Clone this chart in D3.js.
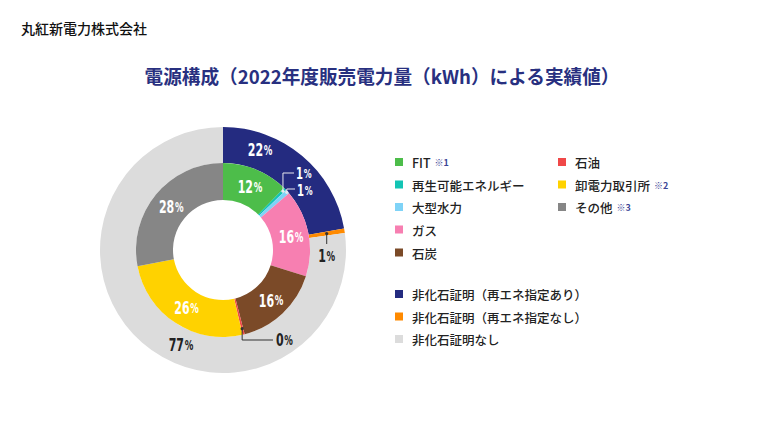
<!DOCTYPE html>
<html>
<head>
<meta charset="utf-8">
<script src="https://cdn.jsdelivr.net/npm/d3@7"></script>
<style>
  body { margin: 0; background: #fff; }
  svg { display: block; }
  text { font-family: "Noto Sans CJK JP", "Noto Sans", sans-serif; }
  .pct { font-family: "DejaVu Sans Condensed", "Liberation Sans Narrow", sans-serif; font-stretch: condensed; font-weight: bold; }
</style>
</head>
<body>
<div id="chart"></div>
<script>
// inner ring: power source mix (%)
var sourceNames = ["FIT", "再生可能エネルギー", "大型水力", "ガス", "石炭", "石油", "卸電力取引所", "その他"];
var sourceValues = [12.4, 0.5, 0.8, 16.2, 16.1, 0.4, 25.6, 28.0];
var sourceColors = ["#4dbd4a", "#13c4b4", "#7fd3f7", "#f77fb1", "#7b4a28", "#f04848", "#ffd200", "#868686"];
var sourceNotes = ["※1", "", "", "", "", "", "※2", "※3"];

// outer ring: non-fossil certificates (%)
var certNames = ["非化石証明（再エネ指定あり）", "非化石証明（再エネ指定なし）", "非化石証明なし"];
var certValues = [22.2, 0.6, 77.2];
var certColors = ["#242b80", "#ff8a00", "#dcdcdc"];

var W = 761, H = 429;
var cx = 223, cy = 250;
var rHole = 50, rMid = 87, rOuter = 123;

var svg = d3.select("#chart").append("svg")
    .attr("width", W).attr("height", H);

svg.append("text")
    .attr("x", 21).attr("y", 34)
    .attr("font-size", 14).attr("font-weight", 500).attr("fill", "#111")
    .text("丸紅新電力株式会社");

svg.append("text")
    .attr("x", 382).attr("y", 84)
    .attr("text-anchor", "middle")
    .attr("font-size", 19).attr("font-weight", "bold").attr("fill", "#283080")
    .attr("textLength", 475).attr("lengthAdjust", "spacingAndGlyphs")
    .text("電源構成（2022年度販売電力量（kWh）による実績値）");

var pie = d3.pie().sort(null).value(function(d) { return d; });
var innerArcs = pie(sourceValues);
var outerArcs = pie(certValues);

var arcInner = d3.arc().innerRadius(rHole).outerRadius(rMid);
var arcOuter = d3.arc().innerRadius(rMid).outerRadius(rOuter);

var g = svg.append("g").attr("transform", "translate(" + cx + "," + cy + ")");

g.selectAll("path.outer").data(outerArcs).enter().append("path")
    .attr("class", "outer")
    .attr("d", arcOuter)
    .attr("fill", function(d, i) { return certColors[i]; });

g.selectAll("path.inner").data(innerArcs).enter().append("path")
    .attr("class", "inner")
    .attr("d", arcInner)
    .attr("fill", function(d, i) { return sourceColors[i]; });

// percentage label, small % sign, squeezed like the condensed original
function pctLabel(sel, val, x, y, color, anchor, size) {
  size = size || 17.5;
  var t = sel.append("text")
      .attr("class", "pct")
      .attr("transform", "translate(" + x + "," + y + ") scale(0.7,1)")
      .attr("text-anchor", anchor || "middle")
      .attr("dominant-baseline", "central")
      .attr("fill", color);
  t.append("tspan").attr("font-size", size).text(Math.round(val));
  t.append("tspan").attr("font-size", size * 0.78).attr("dx", 1).text("%");
  return t;
}

function mid(d) { return (d.startAngle + d.endAngle) / 2; }
function polar(a, r) { return [Math.sin(a) * r, -Math.cos(a) * r]; }

// labels inside the slices (big enough ones)
var insideInner = [0, 3, 4, 6, 7];
insideInner.forEach(function(i) {
  var p = arcInner.centroid(innerArcs[i]);
  pctLabel(g, sourceValues[i], p[0] + 1, p[1] + 1, "#fff");
});
var c22 = polar(mid(outerArcs[0]) - 0.34, 106);
pctLabel(g, certValues[0], c22[0], c22[1], "#fff");
var c77 = polar(mid(outerArcs[2]) - 0.3, 104);
pctLabel(g, certValues[2], c77[0], c77[1], "#222");

// leader lines for tiny slices
function leader(a, r, pts, color) {
  var p0 = polar(a, r);
  var path = [p0].concat(pts.map(function(q) { return [q[0] - cx, q[1] - cy]; }));
  g.append("path")
      .attr("d", d3.line()(path))
      .attr("fill", "none").attr("stroke", color).attr("stroke-width", 1);
  g.append("circle").attr("cx", p0[0]).attr("cy", p0[1]).attr("r", 1.6).attr("fill", color);
}

// 再生可能エネルギー
var aRen = mid(innerArcs[1]);
var pRen = polar(aRen, rMid - 3);
leader(aRen, rMid - 3, [[pRen[0] + cx, 173], [294, 173]], "#e8e8ee");
pctLabel(svg, sourceValues[1], 296, 173, "#fff", "start", 16);
// 大型水力
var aHyd = mid(innerArcs[2]);
var pHyd = polar(aHyd, rMid - 1);
leader(aHyd, rMid - 1, [[pHyd[0] + cx, 189], [295, 189]], "#e8e8ee");
pctLabel(svg, sourceValues[2], 297, 190, "#fff", "start", 16);
// 非化石証明(再エネ指定なし)
var aOr = mid(outerArcs[1]);
var pOr = polar(aOr, 105);
leader(aOr, 105, [[pOr[0] + cx, 244]], "#333");
pctLabel(svg, certValues[1], pOr[0] + cx, 256, "#222");
// 石油
var aOil = mid(innerArcs[5]);
var pOil = polar(aOil, rMid - 6);
leader(aOil, rMid - 6, [[pOil[0] + cx, 340], [273, 340]], "#333");
pctLabel(svg, sourceValues[5], 276, 340, "#222", "start");

// legend
var legend = svg.append("g").attr("class", "legend");
var legendRows = [
  { name: sourceNames[0], note: sourceNotes[0], color: sourceColors[0], x: 395, y: 162 },
  { name: sourceNames[1], note: sourceNotes[1], color: sourceColors[1], x: 395, y: 184.5 },
  { name: sourceNames[2], note: sourceNotes[2], color: sourceColors[2], x: 395, y: 207 },
  { name: sourceNames[3], note: sourceNotes[3], color: sourceColors[3], x: 395, y: 229.5 },
  { name: sourceNames[4], note: sourceNotes[4], color: sourceColors[4], x: 395, y: 252.5 },
  { name: sourceNames[5], note: sourceNotes[5], color: sourceColors[5], x: 558, y: 162 },
  { name: sourceNames[6], note: sourceNotes[6], color: sourceColors[6], x: 558, y: 184.5 },
  { name: sourceNames[7], note: sourceNotes[7], color: sourceColors[7], x: 558, y: 207 },
  { name: certNames[0], note: "", color: certColors[0], x: 395, y: 294 },
  { name: certNames[1], note: "", color: certColors[1], x: 395, y: 316.5 },
  { name: certNames[2], note: "", color: certColors[2], x: 395, y: 339 }
];

var items = legend.selectAll("g").data(legendRows).enter().append("g")
    .attr("transform", function(d) { return "translate(" + d.x + "," + d.y + ")"; });
items.append("rect")
    .attr("x", 0).attr("y", -4).attr("width", 8).attr("height", 8)
    .attr("fill", function(d) { return d.color; });
var lt = items.append("text")
    .attr("x", 17).attr("y", 0)
    .attr("dominant-baseline", "central")
    .attr("font-size", 12.5).attr("font-weight", 500).attr("fill", "#222");
lt.append("tspan").text(function(d) { return d.name; });
lt.append("tspan")
    .attr("dx", 4)
    .attr("font-size", 9).attr("font-weight", "bold").attr("fill", "#3b4596")
    .text(function(d) { return d.note; });
</script>
</body>
</html>
